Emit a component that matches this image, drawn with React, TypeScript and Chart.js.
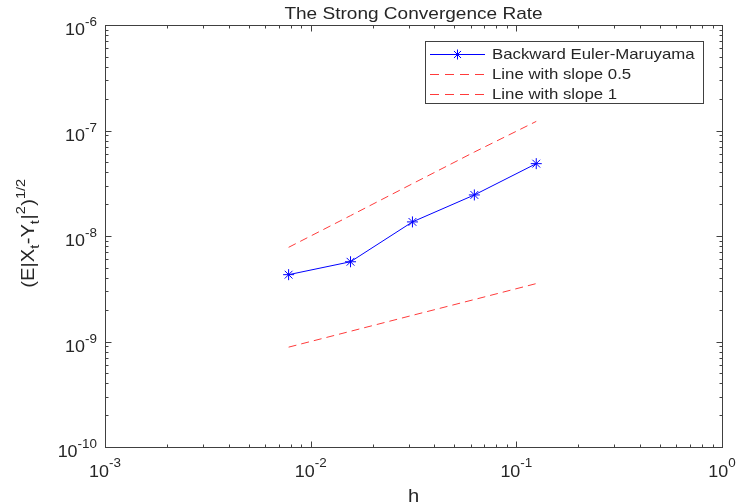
import { useEffect, useRef } from "react";
import { Chart, registerables } from "chart.js";

Chart.register(...registerables);

// ---------- data ----------
const stepSizes = [0.0078125, 0.015625, 0.03125, 0.0625, 0.125];
const bemError = [4.3e-9, 5.7e-9, 1.36e-8, 2.45e-8, 4.85e-8];
const slopeHalfRef = [8.84e-10, 1.25e-9, 1.77e-9, 2.5e-9, 3.54e-9];
const slopeOneRef = [7.81e-9, 1.56e-8, 3.13e-8, 6.25e-8, 1.22e-7];

const seriesLabels = ["Backward Euler-Maruyama", "Line with slope 0.5", "Line with slope 1"];

const xDecades = [1e-3, 1e-2, 1e-1, 1];
const xTickExponents = ["-3", "-2", "-1", "0"];
const yDecades = [1e-10, 1e-9, 1e-8, 1e-7, 1e-6];
const yTickExponents = ["-10", "-9", "-8", "-7", "-6"];

const titleText = "The Strong Convergence Rate";
const xLabelText = "h";
// y label pieces: [text, kind] kind: m = main, b = subscript, p = superscript
const yLabelParts: [string, string][] = [
  ["(E|X", "m"],
  ["t", "b"],
  ["-Y", "m"],
  ["t", "b"],
  ["|", "m"],
  ["2", "p"],
  [")", "m"],
  ["1/2", "p"],
];

// ---------- styling ----------
const FONT = "'Liberation Sans', Arial, Helvetica, sans-serif";
const TEXT_COLOR = "#262626";
const AXIS_COLOR = "#404040";
const SX = 1.12;
const BLUE = "#0000ff";
const RED = "#ff3b3b";

function textWidth(ctx: CanvasRenderingContext2D, text: string, size: number) {
  ctx.save();
  ctx.font = `${size}px ${FONT}`;
  const w = ctx.measureText(text).width * SX;
  ctx.restore();
  return w;
}

function drawText(ctx: CanvasRenderingContext2D, text: string, x: number, y: number, size: number, baseline: CanvasTextBaseline = "alphabetic") {
  ctx.save();
  ctx.font = `${size}px ${FONT}`;
  ctx.fillStyle = TEXT_COLOR;
  ctx.textAlign = "left";
  ctx.textBaseline = baseline;
  ctx.translate(x, y);
  ctx.scale(SX, 1);
  ctx.fillText(text, 0, 0);
  ctx.restore();
}

function drawStar(ctx: CanvasRenderingContext2D, x: number, y: number, r: number, color: string) {
  ctx.save();
  ctx.strokeStyle = color;
  ctx.lineWidth = 1;
  ctx.beginPath();
  ctx.moveTo(x - r, y);
  ctx.lineTo(x + r, y);
  ctx.moveTo(x, y - r);
  ctx.lineTo(x, y + r);
  const d = r * Math.SQRT1_2;
  ctx.moveTo(x - d, y - d);
  ctx.lineTo(x + d, y + d);
  ctx.moveTo(x - d, y + d);
  ctx.lineTo(x + d, y - d);
  ctx.stroke();
  ctx.restore();
}

const matlabAxesPlugin = {
  id: "matlabAxes",
  afterDraw(chart: any) {
    const ctx: CanvasRenderingContext2D = chart.ctx;
    const area = chart.chartArea;
    const xs = chart.scales.x;
    const ys = chart.scales.y;
    const L = Math.round(area.left) + 0.5;
    const R = Math.round(area.right) + 0.5;
    const T = Math.round(area.top) + 0.5;
    const B = Math.round(area.bottom) + 0.5;

    ctx.save();
    ctx.strokeStyle = AXIS_COLOR;
    ctx.lineWidth = 1;
    ctx.strokeRect(L, T, R - L, B - T);

    // ticks
    ctx.beginPath();
    for (let d = 0; d < xDecades.length; d++) {
      for (let m = 1; m <= 9; m++) {
        const v = xDecades[d] * m;
        if (v > xs.max * 1.0001) continue;
        const px = Math.round(xs.getPixelForValue(v)) + 0.5;
        const len = m === 1 ? 6 : 3;
        ctx.moveTo(px, B);
        ctx.lineTo(px, B - len);
        ctx.moveTo(px, T);
        ctx.lineTo(px, T + len);
      }
    }
    for (let d = 0; d < yDecades.length; d++) {
      for (let m = 1; m <= 9; m++) {
        const v = yDecades[d] * m;
        if (v > ys.max * 1.0001) continue;
        const py = Math.round(ys.getPixelForValue(v)) + 0.5;
        const len = m === 1 ? 6 : 3;
        ctx.moveTo(L, py);
        ctx.lineTo(L + len, py);
        ctx.moveTo(R, py);
        ctx.lineTo(R - len, py);
      }
    }
    ctx.stroke();
    ctx.restore();

    // x tick labels
    xDecades.forEach((v, i) => {
      const px = xs.getPixelForValue(v);
      const w10 = textWidth(ctx, "10", 16);
      const we = textWidth(ctx, xTickExponents[i], 12);
      const x0 = px - (w10 + we) / 2;
      drawText(ctx, "10", x0, 477, 16);
      drawText(ctx, xTickExponents[i], x0 + w10, 467, 12);
    });

    // y tick labels
    yDecades.forEach((v, i) => {
      const py = ys.getPixelForValue(v);
      const w10 = textWidth(ctx, "10", 16);
      const we = textWidth(ctx, yTickExponents[i], 12);
      const x0 = 97 - w10 - we;
      drawText(ctx, "10", x0, py + 10, 16);
      drawText(ctx, yTickExponents[i], x0 + w10, py + 1, 12);
    });

    // title
    const cx = (area.left + area.right) / 2;
    const tw = textWidth(ctx, titleText, 17);
    drawText(ctx, titleText, cx - tw / 2, 19, 17);

    // x label
    const hw = textWidth(ctx, xLabelText, 18);
    drawText(ctx, xLabelText, cx - hw / 2, 502, 18);

    // y label (rotated)
    let total = 0;
    const sizes = yLabelParts.map(([, k]) => (k === "m" ? 18 : 13));
    yLabelParts.forEach(([t, k], i) => {
      total += textWidth(ctx, t, sizes[i]) + (k === "m" ? 0 : 0.5);
    });
    ctx.save();
    ctx.translate(34, 233 + total / 2);
    ctx.rotate(-Math.PI / 2);
    let off = 0;
    yLabelParts.forEach(([t, k], i) => {
      const dy = k === "b" ? 5 : k === "p" ? -9 : 0;
      drawText(ctx, t, off, dy, sizes[i]);
      off += textWidth(ctx, t, sizes[i]) + (k === "m" ? 0 : 0.5);
    });
    ctx.restore();

    // legend
    const lx = 425.5, ly = 41.5, lw = 278, lh = 62;
    ctx.save();
    ctx.fillStyle = "#ffffff";
    ctx.fillRect(lx, ly, lw, lh);
    ctx.strokeStyle = AXIS_COLOR;
    ctx.lineWidth = 1;
    ctx.strokeRect(lx, ly, lw, lh);
    chart.data.datasets.forEach((ds: any, i: number) => {
      const ry = Math.round(54 + i * 20) + 0.5;
      ctx.save();
      ctx.strokeStyle = ds.borderColor;
      ctx.lineWidth = 1;
      ctx.setLineDash(ds.borderDash && ds.borderDash.length ? [9, 6] : []);
      ctx.beginPath();
      ctx.moveTo(430, ry);
      ctx.lineTo(485, ry);
      ctx.stroke();
      ctx.restore();
      if (ds.pointRadius > 0) drawStar(ctx, 457.5, ry, 5, ds.borderColor);
      drawText(ctx, ds.label, 492, ry + 0.5, 15, "middle");
    });
    ctx.restore();
  },
};

export default function App() {
  const canvasRef = useRef<HTMLCanvasElement | null>(null);

  useEffect(() => {
    if (!canvasRef.current) return;
    const toPts = (ys: number[]) => stepSizes.map((h, i) => ({ x: h, y: ys[i] }));
    const chart = new Chart(canvasRef.current, {
      type: "line",
      data: {
        datasets: [
          {
            label: seriesLabels[0],
            data: toPts(bemError),
            borderColor: BLUE,
            backgroundColor: BLUE,
            borderWidth: 1,
            pointStyle: "star",
            pointRadius: 5.5,
            pointBorderWidth: 1,
            pointBorderColor: BLUE,
            fill: false,
          },
          {
            label: seriesLabels[1],
            data: toPts(slopeHalfRef),
            borderColor: RED,
            backgroundColor: RED,
            borderWidth: 1,
            borderDash: [8, 5],
            pointRadius: 0,
            fill: false,
          },
          {
            label: seriesLabels[2],
            data: toPts(slopeOneRef),
            borderColor: RED,
            backgroundColor: RED,
            borderWidth: 1,
            borderDash: [8, 5],
            pointRadius: 0,
            fill: false,
          },
        ],
      },
      options: {
        animation: false,
        responsive: false,
        devicePixelRatio: 1,
        layout: { padding: { left: 105, right: 16, top: 25, bottom: 56 } },
        elements: { line: { tension: 0 } },
        scales: {
          x: { type: "logarithmic", min: 1e-3, max: 1, display: false },
          y: { type: "logarithmic", min: 1e-10, max: 1e-6, display: false },
        },
        plugins: {
          legend: { display: false },
          title: { display: false },
          tooltip: { enabled: false },
        },
      } as any,
      plugins: [matlabAxesPlugin],
    });
    return () => chart.destroy();
  }, []);

  return (
    <div style={{ position: "absolute", left: 0, top: 0, width: 738, height: 503, background: "#ffffff" }}>
      <canvas ref={canvasRef} width={738} height={503} style={{ display: "block", width: 738, height: 503 }} />
    </div>
  );
}
